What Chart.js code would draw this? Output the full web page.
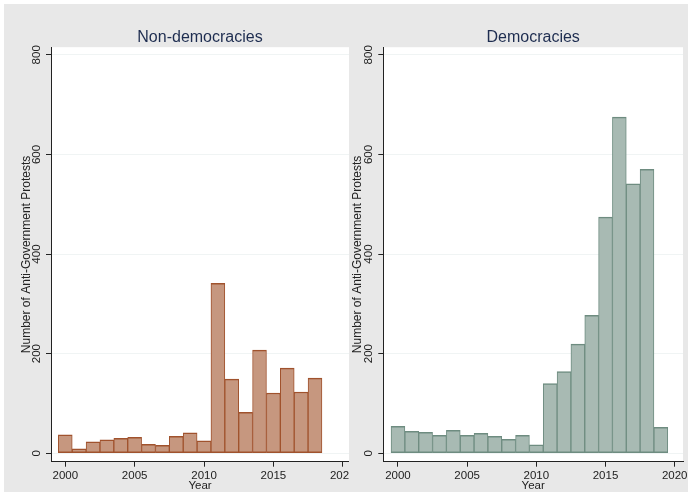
<!DOCTYPE html>
<html><head><meta charset="utf-8">
<script src="https://cdn.jsdelivr.net/npm/chart.js@4.4.1/dist/chart.umd.min.js"></script>
<style>
html,body{margin:0;padding:0;background:#fff;}
#wrap{position:relative;width:688px;height:492px;overflow:hidden;}
#bg{position:absolute;left:4px;top:4px;width:684px;height:488px;background:#e8e8e8;}
#c1{position:absolute;left:0;top:0;}
#c2{position:absolute;left:349px;top:4px;background:#e8e8e8;}
</style></head><body>
<div id="wrap"><div id="bg"></div>
<canvas id="c1" width="400" height="492"></canvas>
<canvas id="c2" width="339" height="488"></canvas>
</div>
<script>
// ---- data ----
const yearsNonDem = [2000,2001,2002,2003,2004,2005,2006,2007,2008,2009,2010,2011,2012,2013,2014,2015,2016,2017,2018];
const protestsNonDem = [37,9,23,27,30,32,18,16,34,41,25,341,149,82,207,121,171,123,151];
const yearsDem = [2000,2001,2002,2003,2004,2005,2006,2007,2008,2009,2010,2011,2012,2013,2014,2015,2016,2017,2018,2019];
const protestsDem = [54,44,42,36,46,36,40,34,28,36,17,140,164,219,277,474,675,541,570,52];
const xTicks = [2000,2005,2010,2015,2020];
const yTicks = [0,200,400,600,800];
const panelTitles = ['Non-democracies','Democracies'];
const xTitle = 'Year';
const yTitle = 'Number of Anti-Government Protests';

const FONT = "'Liberation Sans', Arial, Helvetica, sans-serif";
const INK = '#222';

const plotBg = {
  id: 'plotBg',
  beforeDraw(chart) {
    const {ctx, chartArea: a} = chart;
    ctx.save();
    ctx.fillStyle = '#fff';
    ctx.fillRect(a.left, a.top, a.right - a.left, a.bottom - a.top);
    ctx.restore();
  }
};

function makeChart(el, title, xs, ys, stroke, fill, xMin, xMax, yAxisW, yTitlePad, padTop, padRight) {
  return new Chart(el, {
    type: 'bar',
    data: {
      datasets: [{
        data: xs.map((x, i) => ({x: x, y: ys[i]})),
        backgroundColor: fill,
        borderColor: stroke,
        borderWidth: {top: 1.5, bottom: 1.5, left: 1, right: 1},
        borderSkipped: false,
        barPercentage: 1,
        categoryPercentage: 1
      }]
    },
    options: {
      responsive: false,
      animation: false,
      devicePixelRatio: 1,
      layout: {padding: {top: padTop, left: 0, right: padRight, bottom: 0}},
      plugins: {
        legend: {display: false},
        tooltip: {enabled: false},
        title: {display: true, text: title, fullSize: false, color: '#1e2d50',
          font: {family: FONT, size: 16, weight: 'normal'}, padding: 0}
      },
      scales: {
        x: {
          type: 'linear', min: xMin, max: xMax, offset: false,
          afterBuildTicks(s) { s.ticks = xTicks.map(v => ({value: v})); },
          afterFit(s) { s.height = 30.3; s.paddingLeft = 0; s.paddingRight = 0; },
          grid: {offset: false, drawOnChartArea: false, drawTicks: true, tickLength: 5, tickColor: INK, tickWidth: 1},
          border: {display: true, color: INK, width: 1},
          ticks: {color: INK, font: {family: FONT, size: 11.5}, padding: 2, maxRotation: 0, minRotation: 0,
            autoSkip: false, callback: v => String(v)},
          title: {display: true, text: xTitle, color: INK, font: {family: FONT, size: 11.5}, padding: {top: 0, bottom: -1}}
        },
        y: {
          type: 'linear', min: -16.9, max: 815.3,
          afterBuildTicks(s) { s.ticks = yTicks.map(v => ({value: v})); },
          afterFit(s) { s.width = yAxisW; s.paddingTop = 0; s.paddingBottom = 0; },
          grid: {color: '#f0f4f4', lineWidth: 1, drawTicks: true, tickLength: 5, tickColor: INK, tickWidth: 1},
          border: {display: true, color: INK, width: 1},
          ticks: {color: INK, font: {family: FONT, size: 11.5}, padding: 0, minRotation: 90, maxRotation: 90,
            crossAlign: 'center', autoSkip: false, callback: v => String(v)},
          title: {display: true, text: yTitle, color: INK, font: {family: FONT, size: 12},
            padding: {top: yTitlePad, bottom: 0}}
        }
      }
    },
    plugins: [plotBg]
  });
}

makeChart(document.getElementById('c1'), panelTitles[0], yearsNonDem, protestsNonDem,
  '#a0522d', '#c6977f', 1998.97, 2020.45, 51, 19.8, 28, 51);
makeChart(document.getElementById('c2'), panelTitles[1], yearsDem, protestsDem,
  '#6e8c80', '#a8bab3', 1998.94, 2020.6, 34.3, 1.5, 24, 5);
</script>
</body></html>
